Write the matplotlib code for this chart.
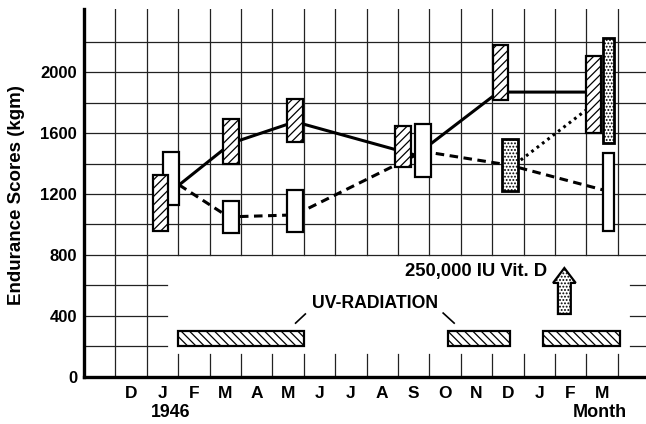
import matplotlib.pyplot as plt
from matplotlib.patches import Rectangle, FancyArrow

plt.rcParams['font.family'] = ['Liberation Sans', 'DejaVu Sans']
plt.rcParams['font.weight'] = 'bold'
plt.rcParams['hatch.linewidth'] = 0.9

months = ['D', 'J', 'F', 'M', 'A', 'M', 'J', 'J', 'A', 'S', 'O', 'N', 'D', 'J', 'F', 'M']
y_ticks = [0, 400, 800, 1200, 1600, 2000]

# boxes: left edge (month units), width, low, high (kgm)
hatched_x = [2.20, 4.44, 6.47, 9.91, 13.02, 16.00]
hatched_w = [0.48, 0.50, 0.50, 0.50, 0.48, 0.47]
hatched_lo = [960, 1400, 1545, 1380, 1815, 1600]
hatched_hi = [1325, 1695, 1825, 1645, 2180, 2105]

open_x = [2.53, 4.44, 6.47, 10.55, 16.54]
open_w = [0.50, 0.50, 0.50, 0.50, 0.34]
open_lo = [1130, 945, 950, 1310, 960]
open_hi = [1475, 1155, 1225, 1660, 1470]

dotted_x = [13.32, 16.54]
dotted_w = [0.49, 0.34]
dotted_lo = [1220, 1535]
dotted_hi = [1565, 2225]

# connecting lines
solid_x = [3.03, 4.70, 6.72, 10.57, 13.20, 16.30]
solid_y = [1260, 1535, 1675, 1455, 1870, 1870]
dashed_x = [3.03, 4.60, 6.72, 10.80, 13.55, 16.70]
dashed_y = [1260, 1050, 1063, 1480, 1390, 1218]
dot_line_x = [13.57, 16.30]
dot_line_y = [1370, 1800]

# UV radiation periods
uv_start = [3.0, 11.6, 14.62]
uv_end = [7.0, 13.57, 17.06]
uv_lo = 200
uv_hi = 300

# vitamin D arrow
arrow_x = 15.3
arrow_y0 = 412
arrow_y1 = 714

XMAX = 17.9
YMAX = 2416

fig = plt.figure(figsize=(6.46, 4.24), dpi=100)
ax = fig.add_axes([0.1300, 0.1116, 0.8700, 0.8672])
ax.set_xlim(0, XMAX)
ax.set_ylim(0, YMAX)

gk = dict(color='#222222', lw=0.9, zorder=1)
# horizontal grid
for y in range(800, 2400, 200):
    ax.plot([0, XMAX], [y, y], **gk)
for y in (200, 400, 600):
    ax.plot([0, 2.64], [y, y], **gk)
    ax.plot([17.4, XMAX], [y, y], **gk)
# vertical grid
for x in (1, 2):
    ax.plot([x, x], [0, YMAX], **gk)
for x in range(3, 18):
    ax.plot([x, x], [800, YMAX], **gk)
    ax.plot([x, x], [0, 150], **gk)

for s in ('top', 'right'):
    ax.spines[s].set_visible(False)
for s in ('left', 'bottom'):
    ax.spines[s].set_linewidth(2.4)
    ax.spines[s].set_zorder(6)

ax.set_yticks(y_ticks)
ax.set_yticklabels([str(v) for v in y_ticks], fontsize=12, fontweight='bold')
ax.set_xticks([i + 1.5 for i in range(len(months))])
ax.set_xticklabels(months, fontsize=12.5, fontweight='bold')
ax.tick_params(axis='both', length=0)
ax.tick_params(axis='x', pad=7)
ax.tick_params(axis='y', pad=5)

ax.text(2.76, -235, '1946', ha='center', va='center', fontsize=12.8, fontweight='bold')
ax.text(16.43, -235, 'Month', ha='center', va='center', fontsize=13, fontweight='bold')
fig.text(17 / 646, 1 - 195 / 424, 'Endurance Scores (kgm)', rotation=90,
         ha='center', va='center', fontsize=13.5, fontweight='bold')

# lines
ax.plot(solid_x, solid_y, color='black', lw=2.2, zorder=2, solid_capstyle='butt')
ax.plot(dashed_x, dashed_y, color='black', lw=2.2, zorder=2, dashes=(2.8, 1.8))
ax.plot(dot_line_x, dot_line_y, color='black', lw=2.2, zorder=2, dashes=(0.9, 1.3))

# boxes
for x, w, lo, hi in zip(open_x, open_w, open_lo, open_hi):
    ax.add_patch(Rectangle((x, lo), w, hi - lo, facecolor='white', edgecolor='black',
                           lw=1.6, zorder=3))
for x, w, lo, hi in zip(hatched_x, hatched_w, hatched_lo, hatched_hi):
    ax.add_patch(Rectangle((x, lo), w, hi - lo, facecolor='white', edgecolor='black',
                           lw=1.6, hatch='////', zorder=4))
for x, w, lo, hi in zip(dotted_x, dotted_w, dotted_lo, dotted_hi):
    ax.add_patch(Rectangle((x, lo), w, hi - lo, facecolor='white', edgecolor='black',
                           lw=2.0, hatch='.....', zorder=4))

# UV bars
for a, b in zip(uv_start, uv_end):
    ax.add_patch(Rectangle((a, uv_lo), b - a, uv_hi - uv_lo, facecolor='white',
                           edgecolor='black', lw=1.6, hatch='\\\\\\\\', zorder=3))
ax.text(7.25, 484, 'UV-RADIATION', ha='left', va='center', fontsize=12.7, fontweight='bold')
ax.plot([6.74, 7.05], [352, 412], color='black', lw=1.2)
ax.plot([11.44, 11.79], [418, 352], color='black', lw=1.2)

# vitamin D
ax.add_patch(FancyArrow(arrow_x, arrow_y0, 0, arrow_y1 - arrow_y0, width=0.41,
                        head_width=0.72, head_length=98, length_includes_head=True,
                        facecolor='white', edgecolor='black', lw=1.6, hatch='.....',
                        zorder=3))
ax.text(10.23, 688, '250,000 IU Vit. D', ha='left', va='center', fontsize=13.3,
        fontweight='bold')

fig.savefig('out.png', dpi=100)
